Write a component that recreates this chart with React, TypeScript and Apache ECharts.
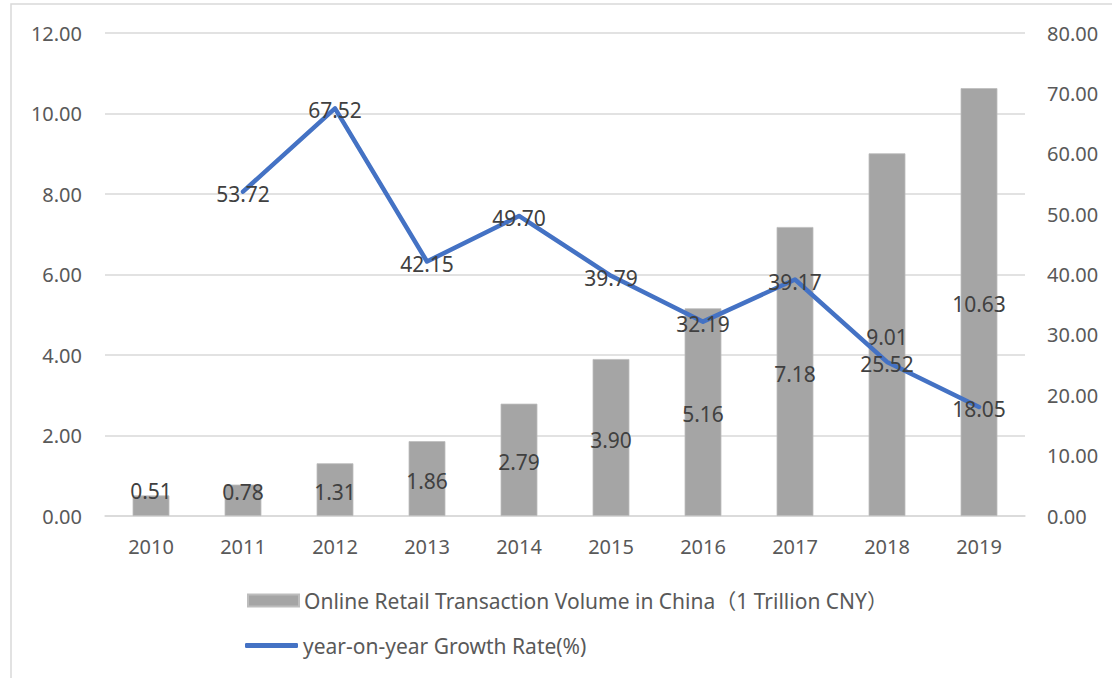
import React, { useEffect, useRef } from "react";
import * as echarts from "echarts";

const years = ["2010", "2011", "2012", "2013", "2014", "2015", "2016", "2017", "2018", "2019"];
const volume = [0.51, 0.78, 1.31, 1.86, 2.79, 3.9, 5.16, 7.18, 9.01, 10.63];
const growth: (number | null)[] = [null, 53.72, 67.52, 42.15, 49.7, 39.79, 32.19, 39.17, 25.52, 18.05];
const barName = "Online Retail Transaction Volume in China（1 Trillion CNY）";
const lineName = "year-on-year Growth Rate(%)";

const FONT = "'Noto Sans', 'Noto Sans CJK SC', sans-serif";

export default function App() {
  const ref = useRef<HTMLDivElement>(null);
  useEffect(() => {
    if (!ref.current) return;
    const chart = echarts.init(ref.current, null, { renderer: "svg" });
    const barData = volume.map((v, i) => ({
      value: v,
      label: { offset: [0, i === 0 ? -15 : i === 1 ? -8 : 2] },
    }));
    chart.setOption({
      animation: false,
      backgroundColor: "#ffffff",
      textStyle: { fontFamily: FONT },
      graphic: [
        {
          type: "rect",
          shape: { x: 11, y: 4, width: 1300, height: 900 },
          style: { fill: "none", stroke: "#d9d9d9", lineWidth: 1.5 },
          silent: true,
        },
      ],
      grid: { left: 105, right: 87, top: 33, bottom: 162, containLabel: false },
      legend: [
        {
          data: [barName],
          left: 247,
          top: 588,
          padding: 0,
          icon: "rect",
          itemWidth: 51,
          itemHeight: 12,
          selectedMode: false,
          textStyle: { fontFamily: FONT, fontSize: 21, color: "#595959", lineHeight: 25 },
        },
        {
          data: [lineName],
          left: 245,
          top: 633,
          padding: 0,
          icon: "roundRect",
          itemWidth: 53,
          itemHeight: 5,
          selectedMode: false,
          itemStyle: { color: "#4472c4", opacity: 1 },
          textStyle: { fontFamily: FONT, fontSize: 21, color: "#595959", lineHeight: 25 },
        },
      ],
      xAxis: {
        type: "category",
        data: years,
        axisTick: { show: false },
        axisLine: { lineStyle: { color: "#d9d9d9", width: 1.5 } },
        axisLabel: { color: "#595959", fontSize: 20, margin: 20, fontFamily: FONT },
      },
      yAxis: [
        {
          type: "value",
          min: 0,
          max: 12,
          interval: 2,
          axisLine: { show: false },
          axisTick: { show: false },
          splitLine: { lineStyle: { color: "#d9d9d9", width: 1.5 } },
          axisLabel: {
            color: "#595959",
            fontSize: 20,
            margin: 23,
            fontFamily: FONT,
            formatter: (v: number) => v.toFixed(2),
          },
        },
        {
          type: "value",
          min: 0,
          max: 80,
          interval: 10,
          axisLine: { show: false },
          axisTick: { show: false },
          splitLine: { show: false },
          axisLabel: {
            color: "#595959",
            fontSize: 20,
            margin: 22,
            fontFamily: FONT,
            formatter: (v: number) => v.toFixed(2),
          },
        },
      ],
      series: [
        {
          name: barName,
          type: "bar",
          yAxisIndex: 0,
          data: barData,
          barWidth: "40%",
          itemStyle: { color: "#a5a5a5", borderColor: "#bdbdbd", borderWidth: 0.8 },
          label: {
            show: true,
            position: "inside",
            color: "#404040",
            fontSize: 21,
            fontFamily: FONT,
            formatter: (p: any) => Number(p.value).toFixed(2),
          },
          z: 2,
        },
        {
          name: lineName,
          type: "line",
          yAxisIndex: 1,
          data: growth,
          symbol: "circle",
          symbolSize: 1,
          showSymbol: true,
          lineStyle: { color: "#4472c4", width: 4.5, cap: "round", join: "round" },
          itemStyle: { color: "#4472c4" },
          label: {
            show: true,
            position: "inside",
            offset: [0, 2],
            color: "#404040",
            fontSize: 21,
            fontFamily: FONT,
            formatter: (p: any) => (p.value == null ? "" : Number(p.value).toFixed(2)),
          },
          z: 3,
        },
      ],
    });
    return () => chart.dispose();
  }, []);
  return (
    <div
      ref={ref}
      style={{ position: "fixed", left: 0, top: 0, width: 1112, height: 678, background: "#fff" }}
    />
  );
}
